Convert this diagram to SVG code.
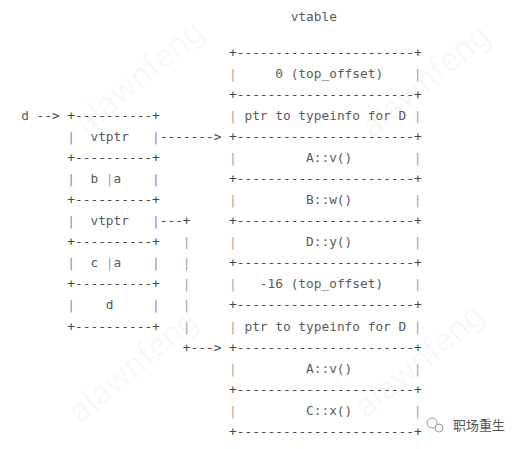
<svg xmlns="http://www.w3.org/2000/svg" width="521" height="449" viewBox="0 0 521 449">
<style>
.t{font-family:"DejaVu Sans Mono","Liberation Mono",monospace;font-size:12.8px;white-space:pre}
.b{fill:#454545}
.lp{fill:#a878bc}
.vp{fill:#aaa196}
.tx{fill:#5a5a5a}
.wm{font-family:Roboto,"DejaVu Sans",sans-serif;font-size:34px;fill:#000;fill-opacity:0.035}
</style>
<rect width="521" height="449" fill="#fff"/>
<g id="watermarks">
<text class="wm" transform="translate(86,136) rotate(-40)">alawnfeng</text>
<text class="wm" transform="translate(80,425) rotate(-40)">alawnfeng</text>
<text class="wm" transform="translate(372,140) rotate(-40)">alawnfeng</text>
<text class="wm" transform="translate(366,420) rotate(-40)">alawnfeng</text>
</g>
<g id="title"><text class="t tx" x="290.65" y="20.7">vtable</text></g>
<g id="object-d">
<text class="t tx" x="21.15" y="119.9">d</text>
<text class="t b" x="67.35" y="119.9">+----------+</text>
<text class="t lp" x="67.35" y="140.9">|</text><text class="t tx" x="90.45" y="140.9">vtptr</text><text class="t lp" x="152.05" y="140.9">|</text>
<text class="t b" x="67.35" y="162.0">+----------+</text>
<text class="t lp" x="67.35" y="183.1">|</text><text class="t tx" x="90.45" y="183.1">b</text><text class="t vp" x="105.85" y="183.1">|</text><text class="t tx" x="113.55" y="183.1">a</text><text class="t lp" x="152.05" y="183.1">|</text>
<text class="t b" x="67.35" y="204.1">+----------+</text>
<text class="t lp" x="67.35" y="225.2">|</text><text class="t tx" x="90.45" y="225.2">vtptr</text><text class="t lp" x="152.05" y="225.2">|</text>
<text class="t b" x="67.35" y="246.2">+----------+</text>
<text class="t lp" x="67.35" y="267.3">|</text><text class="t tx" x="90.45" y="267.3">c</text><text class="t vp" x="105.85" y="267.3">|</text><text class="t tx" x="113.55" y="267.3">a</text><text class="t lp" x="152.05" y="267.3">|</text>
<text class="t b" x="67.35" y="288.4">+----------+</text>
<text class="t lp" x="67.35" y="309.4">|</text><text class="t tx" x="105.85" y="309.4">d</text><text class="t lp" x="152.05" y="309.4">|</text>
<text class="t b" x="67.35" y="330.5">+----------+</text>
</g>
<g id="vtable">
<text class="t b" x="229.05" y="56.7">+-----------------------+</text>
<text class="t vp" x="229.05" y="77.8">|</text><text class="t tx" x="275.25" y="77.8">0 (top_offset)</text><text class="t vp" x="413.85" y="77.8">|</text>
<text class="t b" x="229.05" y="98.8">+-----------------------+</text>
<text class="t vp" x="229.05" y="119.9">|</text><text class="t tx" x="244.45" y="119.9">ptr to typeinfo for D</text><text class="t vp" x="413.85" y="119.9">|</text>
<text class="t b" x="229.05" y="140.9">+-----------------------+</text>
<text class="t vp" x="229.05" y="162.0">|</text><text class="t tx" x="306.05" y="162.0">A::v()</text><text class="t vp" x="413.85" y="162.0">|</text>
<text class="t b" x="229.05" y="183.1">+-----------------------+</text>
<text class="t vp" x="229.05" y="204.1">|</text><text class="t tx" x="306.05" y="204.1">B::w()</text><text class="t vp" x="413.85" y="204.1">|</text>
<text class="t b" x="229.05" y="225.2">+-----------------------+</text>
<text class="t vp" x="229.05" y="246.2">|</text><text class="t tx" x="306.05" y="246.2">D::y()</text><text class="t vp" x="413.85" y="246.2">|</text>
<text class="t b" x="229.05" y="267.3">+-----------------------+</text>
<text class="t vp" x="229.05" y="288.4">|</text><text class="t tx" x="259.85" y="288.4">-16 (top_offset)</text><text class="t vp" x="413.85" y="288.4">|</text>
<text class="t b" x="229.05" y="309.4">+-----------------------+</text>
<text class="t vp" x="229.05" y="330.5">|</text><text class="t tx" x="244.45" y="330.5">ptr to typeinfo for D</text><text class="t vp" x="413.85" y="330.5">|</text>
<text class="t b" x="229.05" y="351.5">+-----------------------+</text>
<text class="t vp" x="229.05" y="372.6">|</text><text class="t tx" x="306.05" y="372.6">A::v()</text><text class="t vp" x="413.85" y="372.6">|</text>
<text class="t b" x="229.05" y="393.7">+-----------------------+</text>
<text class="t vp" x="229.05" y="414.7">|</text><text class="t tx" x="306.05" y="414.7">C::x()</text><text class="t vp" x="413.85" y="414.7">|</text>
<text class="t b" x="229.05" y="435.8">+-----------------------+</text>
</g>
<g id="connectors">
<text class="t b" x="36.55" y="119.9">--&gt;</text>
<text class="t b" x="159.75" y="140.9">-------&gt;</text>
<text class="t b" x="159.75" y="225.2">---+</text>
<text class="t vp" x="182.85" y="246.2">|</text>
<text class="t vp" x="182.85" y="267.3">|</text>
<text class="t vp" x="182.85" y="288.4">|</text>
<text class="t vp" x="182.85" y="309.4">|</text>
<text class="t vp" x="182.85" y="330.5">|</text>
<text class="t b" x="182.85" y="351.5">+---&gt;</text>
</g>
<g id="badge">
<circle cx="432" cy="423" r="5" fill="none" stroke="#9a9a9a" stroke-width="1"/>
<circle cx="439" cy="428" r="4" fill="#fff" stroke="#9a9a9a" stroke-width="1"/>
<text x="453" y="430" style="font-family:'Noto Sans CJK SC',sans-serif;font-size:13px;fill:#555">职场重生</text>
</g>
</svg>
